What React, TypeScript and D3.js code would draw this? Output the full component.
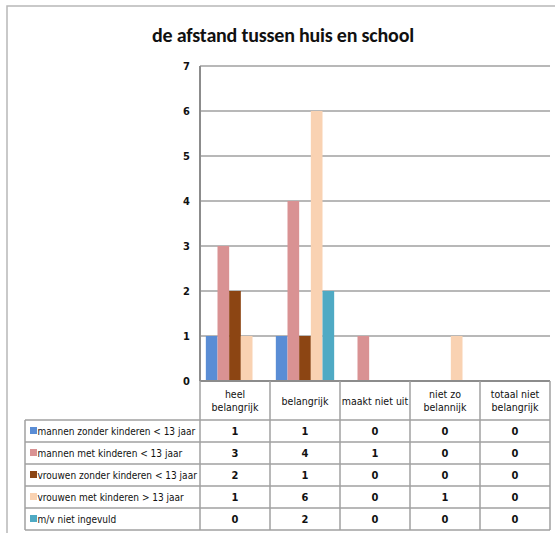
import React from "react";
import * as d3 from "d3";

const title = "de afstand tussen huis en school";
const categories = ["heel belangrijk", "belangrijk", "maakt niet uit", "niet zo belannijk", "totaal niet belangrijk"];
const categoryLines = [["heel", "belangrijk"], ["belangrijk"], ["maakt niet uit"], ["niet zo", "belannijk"], ["totaal niet", "belangrijk"]];
const seriesNames = [
  "mannen  zonder kinderen < 13 jaar",
  "mannen  met kinderen < 13 jaar",
  "vrouwen zonder kinderen < 13 jaar",
  "vrouwen met kinderen > 13 jaar",
  "m/v niet ingevuld",
];
const mannenZonder = [1, 1, 0, 0, 0];
const mannenMet = [3, 4, 1, 0, 0];
const vrouwenZonder = [2, 1, 0, 0, 0];
const vrouwenMet = [1, 6, 0, 1, 0];
const nietIngevuld = [0, 2, 0, 0, 0];
const seriesValues = [mannenZonder, mannenMet, vrouwenZonder, vrouwenMet, nietIngevuld];
const colors = ["#5A8DD5", "#D99293", "#8C4513", "#F9D2B2", "#4FAAC4"];
const yTicks = [0, 1, 2, 3, 4, 5, 6, 7];

const plotLeft = 200, plotRight = 550, plotTop = 66, plotBottom = 381;
const headerBottom = 420, rowH = 22, tableLeft = 25;
const gridColor = "#A0A0A0";
const font = "'Liberation Sans Narrow', 'DejaVu Sans Condensed', 'Roboto Condensed', Arial, sans-serif";

export default function App() {
  const x0 = d3.scaleBand<number>().domain(d3.range(categories.length)).range([plotLeft, plotRight]).padding(0);
  const x1 = d3.scaleBand<number>().domain(d3.range(seriesNames.length)).range([0, x0.bandwidth()]).paddingInner(0).paddingOuter(0.5);
  const y = d3.scaleLinear().domain([0, 7]).range([plotBottom, plotTop]);
  const tableBottom = headerBottom + rowH * seriesNames.length;
  const bounds = d3.range(categories.length + 1).map((i) => plotLeft + i * x0.step());

  return (
    <svg width={555} height={533} style={{ position: "absolute", left: 0, top: 0, background: "#fff" }}>
      <rect x={7} y={6} width={600} height={600} fill="#fff" stroke="#B8B8B8" strokeWidth={1.5} />
      <text x={283} y={42} textAnchor="middle" fontFamily="Calibri, Carlito, 'Open Sans', sans-serif" fontWeight="bold" fontSize={20} letterSpacing={-0.2} fill="#111">{title}</text>
      {yTicks.map((t) => (
        <line key={"g" + t} x1={plotLeft} x2={plotRight} y1={y(t)} y2={y(t)} stroke={gridColor} strokeWidth={1.5} />
      ))}
      {yTicks.map((t) => (
        <text key={"yt" + t} x={190} y={y(t) + 4} textAnchor="end" fontFamily={font} fontWeight="bold" fontSize={11} fill="#111">{t}</text>
      ))}
      {seriesValues.map((vals, s) =>
        vals.map((v, c) =>
          v > 0 ? (
            <rect key={`b${s}-${c}`} x={(x0(c) as number) + (x1(s) as number)} y={y(v)} width={x1.bandwidth()} height={y(0) - y(v)} fill={colors[s]} />
          ) : null
        )
      )}
      <line x1={plotLeft} x2={plotLeft} y1={plotTop} y2={plotBottom} stroke="#8C8C8C" strokeWidth={2} />
      <line x1={plotLeft} x2={plotRight} y1={plotBottom} y2={plotBottom} stroke="#8C8C8C" strokeWidth={2} />
      {bounds.map((bx, i) => (
        <line key={"tv" + i} x1={bx} x2={bx} y1={plotBottom} y2={tableBottom} stroke={gridColor} strokeWidth={1.5} />
      ))}
      <line x1={tableLeft} x2={tableLeft} y1={headerBottom} y2={tableBottom} stroke={gridColor} strokeWidth={1.5} />
      {d3.range(seriesNames.length + 1).map((r) => (
        <line key={"th" + r} x1={tableLeft} x2={plotRight} y1={headerBottom + r * rowH} y2={headerBottom + r * rowH} stroke={gridColor} strokeWidth={1.5} />
      ))}
      {categoryLines.map((lines, c) => {
        const cx = (x0(c) as number) + x0.bandwidth() / 2;
        const mid = (plotBottom + headerBottom) / 2;
        return lines.map((ln, k) => (
          <text key={`h${c}-${k}`} x={cx} y={mid + 4 + (k - (lines.length - 1) / 2) * 13} textAnchor="middle" fontFamily={font} fontSize={10.5} fill="#111">{ln}</text>
        ));
      })}
      {seriesNames.map((name, s) => {
        const cy = headerBottom + s * rowH + rowH / 2;
        return (
          <g key={"row" + s}>
            <rect x={30} y={cy - 4} width={7} height={7} fill={colors[s]} />
            <text x={37.5} y={cy + 3.5} fontFamily={font} fontSize={10} fill="#111">{name}</text>
            {seriesValues[s].map((v, c) => (
              <text key={`v${s}-${c}`} x={(x0(c) as number) + x0.bandwidth() / 2} y={cy + 4} textAnchor="middle" fontFamily={font} fontWeight="bold" fontSize={11} fill="#111">{v}</text>
            ))}
          </g>
        );
      })}
    </svg>
  );
}
